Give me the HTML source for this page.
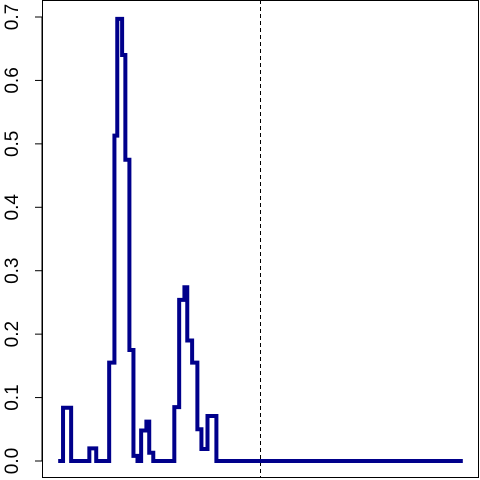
<!DOCTYPE html>
<html><head><meta charset="utf-8"><style>
body{margin:0;background:#fff}
svg{display:block;font-family:"Liberation Sans",sans-serif}
</style></head><body>
<svg id="chart" width="480" height="480"></svg>
<script>
const stepX = [0, 1.2, 3.2, 7.7, 9.4, 12.6, 13.9, 14.6, 15.8, 16.6, 17.6, 18.6, 19.6, 20.5, 21.8, 22.5, 23.5, 28.7, 29.9, 31.2, 31.9, 33.1, 34.4, 35.4, 36.9, 39.1, 100];
const stepY = [0, 0.084, 0, 0.02, 0, 0.155, 0.513, 0.697, 0.64, 0.475, 0.175, 0.008, 0, 0.048, 0.062, 0.013, 0, 0.085, 0.254, 0.274, 0.19, 0.155, 0.05, 0.019, 0.071, 0, 0];
const yTicks = [0, 0.1, 0.2, 0.3, 0.4, 0.5, 0.6, 0.7];
const yTickLabels = ["0.0","0.1","0.2","0.3","0.4","0.5","0.6","0.7"];
const cutoff = [50];

const NS="http://www.w3.org/2000/svg";
const svg=document.getElementById('chart');
const L=42,R=479,T=0,B=478;
const xs=x=>L+(x+4)*(R-L)/108;
const ys=y=>461-y*(461-17)/0.7;
function el(t,a){const e=document.createElementNS(NS,t);for(const k in a)e.setAttribute(k,a[k]);svg.appendChild(e);return e;}

const box=el('rect',{x:L+0.5,y:T+0.5,width:R-L-1,height:B-T-1,fill:'none',stroke:'#000','stroke-width':1});



const ax=el('line',{x1:L,x2:L,y1:ys(0),y2:ys(0.7),stroke:'#000'});


yTicks.forEach((v,i)=>{
  const tk=el('line',{x1:L-7,x2:L,y1:ys(v),y2:ys(v),stroke:'#000'});
  
  
  const tx=el('text',{x:0,y:0,'font-size':19,'text-anchor':'middle',transform:`translate(18,${ys(v)}) rotate(-90)`});
  tx.textContent=yTickLabels[i];
  
  
});

cutoff.forEach(c=>{
  const d=el('line',{x1:xs(c),x2:xs(c),y1:T,y2:B,stroke:'#000','stroke-width':1,'stroke-dasharray':'4,3'});
  
  
});

let p='';
for(let i=0;i<stepX.length;i++){
  const x=xs(stepX[i]),y=ys(stepY[i]);
  if(i===0)p+=`M${x},${y}`;
  else p+=`H${x}V${y}`;
}
const line=el('path',{d:p,fill:'none',stroke:'#00008B','stroke-width':4,'stroke-linejoin':'miter','stroke-linecap':'butt'});


</script>
</body></html>
